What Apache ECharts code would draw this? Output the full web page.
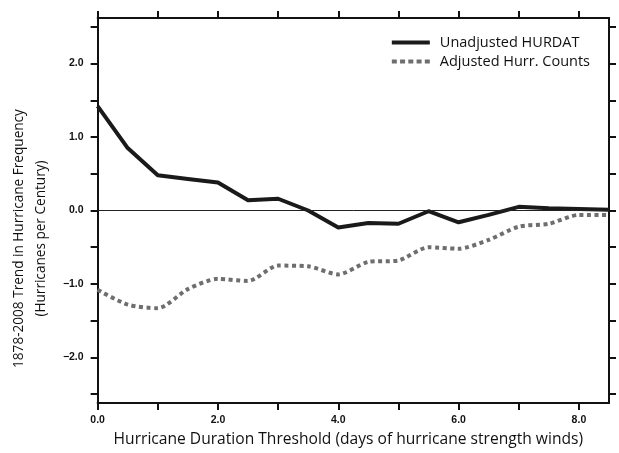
<!DOCTYPE html>
<html>
<head>
<meta charset="utf-8">
<script src="https://cdn.jsdelivr.net/npm/echarts@6/dist/echarts.min.js"></script>
<style>
  html, body { margin: 0; padding: 0; background: #fff; }
  #chart { width: 619px; height: 453px; }
</style>
</head>
<body>
<div id="chart"></div>
<script>
"use strict"

// duration thresholds (days)
var thresholds = [0, 0.5, 1, 1.5, 2, 2.5, 3, 3.5, 4, 4.5, 5, 5.5, 6, 6.5, 7, 7.5, 8, 8.5];
// trend, hurricanes per century
var unadjusted = [1.42, 0.85, 0.48, 0.43, 0.38, 0.14, 0.16, 0.0, -0.23, -0.17, -0.18, -0.01, -0.16, -0.06, 0.05, 0.03, 0.02, 0.01];
var adjusted = [-1.08, -1.28, -1.33, -1.07, -0.93, -0.96, -0.75, -0.76, -0.87, -0.70, -0.68, -0.50, -0.52, -0.40, -0.22, -0.18, -0.06, -0.06];

var seriesNames = ["Unadjusted HURDAT", "Adjusted Hurr. Counts"];
var xLabelValues = [0, 2, 4, 6, 8];
var xTickValues = [0, 1, 2, 3, 4, 5, 6, 7, 8];
var yLabelValues = [-2, -1, 0, 1, 2];
var yTickValues = [-2.5, -2, -1.5, -1, -0.5, 0, 0.5, 1, 1.5, 2, 2.5];

function pairs(xs, ys){
    var out = [];
    for(let i = 0; i < xs.length; i++){
        out.push([xs[i], ys[i]]);
    }
    return out;
}

var fontMain = "'Open Sans', 'Noto Sans', sans-serif";
var axisLine = { show: true, onZero: false, lineStyle: { color: '#111', width: 2 } };
var tickLine = { color: '#111', width: 2 };

// legend samples: a solid bar and a row of square dots
var solidIcon = 'path://M0,0H38V4H0Z';
var dotIcon = 'path://M0,0H5V4H0Z M8.25,0H13.25V4H8.25Z M16.5,0H21.5V4H16.5Z M24.75,0H29.75V4H24.75Z M33,0H38V4H33Z';

var chart = echarts.init(document.getElementById('chart'), null, { renderer: 'canvas' });
var option = {
    animation: false,
    backgroundColor: '#fff',
    grid: { left: 94, right: 10, top: 18, bottom: 47 },
    legend: {
        right: 24,
        top: 30,
        orient: 'vertical',
        itemWidth: 38,
        itemHeight: 14,
        itemGap: 4,
        symbolKeepAspect: true,
        itemStyle: { borderWidth: 0 },
        textStyle: { fontFamily: fontMain, fontSize: 14.5, color: '#111', padding: [0, 0, 0, 5] },
        data: [
            { name: seriesNames[0], icon: solidIcon },
            { name: seriesNames[1], icon: dotIcon }
        ]
    },
    xAxis: [
        {
            type: 'value',
            min: 0,
            max: 8.5,
            name: 'Hurricane Duration Threshold (days of hurricane strength winds)',
            nameLocation: 'middle',
            nameGap: 29,
            nameTextStyle: { fontFamily: fontMain, fontSize: 15.6, color: '#111', padding: [0, 10, 0, 0] },
            axisLine: axisLine,
            axisTick: { show: true, inside: false, length: 7, customValues: xTickValues, lineStyle: tickLine },
            axisLabel: {
                customValues: xLabelValues,
                margin: 12,
                fontFamily: 'Liberation Sans',
                fontWeight: 'bold',
                fontSize: 10.5,
                color: '#111',
                formatter: function(v){ return v.toFixed(1); }
            },
            splitLine: { show: false }
        },
        {
            type: 'value',
            position: 'top',
            min: 0,
            max: 8.5,
            axisLine: axisLine,
            axisTick: { show: true, inside: false, length: 7, customValues: xTickValues, lineStyle: tickLine },
            axisLabel: { show: false },
            splitLine: { show: false }
        }
    ],
    yAxis: [
        {
            type: 'value',
            min: -2.62,
            max: 2.62,
            name: '1878-2008 Trend in Hurricane Frequency\n(Hurricanes per Century)',
            nameLocation: 'middle',
            nameGap: 40,
            nameTextStyle: { fontFamily: fontMain, fontSize: 13.6, color: '#111', lineHeight: 22, align: 'center', padding: [0, 56, 0, 0] },
            axisLine: axisLine,
            axisTick: { show: true, inside: false, length: 7, customValues: yTickValues, lineStyle: tickLine },
            axisLabel: {
                customValues: yLabelValues,
                margin: 14,
                fontFamily: 'Liberation Sans',
                fontWeight: 'bold',
                fontSize: 10.5,
                color: '#111',
                formatter: function(v){ return (v < 0 ? '\u2212' : '') + Math.abs(v).toFixed(1); }
            },
            splitLine: { show: false }
        },
        {
            type: 'value',
            position: 'right',
            min: -2.62,
            max: 2.62,
            axisLine: axisLine,
            axisTick: { show: true, inside: false, length: 7, customValues: yTickValues, lineStyle: tickLine },
            axisLabel: { show: false },
            splitLine: { show: false }
        }
    ],
    series: [
        {
            name: seriesNames[0],
            type: 'line',
            symbol: 'none',
            showSymbol: false,
            color: '#1a1a1a',
            lineStyle: { color: '#1a1a1a', width: 4, join: 'round' },
            data: pairs(thresholds, unadjusted),
            z: 3,
            markLine: {
                silent: true,
                symbol: 'none',
                label: { show: false },
                lineStyle: { color: '#222', width: 1, type: 'solid' },
                data: [{ yAxis: 0 }]
            }
        },
        {
            name: seriesNames[1],
            type: 'line',
            symbol: 'none',
            showSymbol: false,
            smooth: 0.25,
            color: '#6e6e6e',
            lineStyle: { color: '#6e6e6e', width: 4, type: [4, 3.5], cap: 'butt' },
            data: pairs(thresholds, adjusted),
            z: 2
        }
    ]
};
chart.setOption(option);
</script>
</body>
</html>
